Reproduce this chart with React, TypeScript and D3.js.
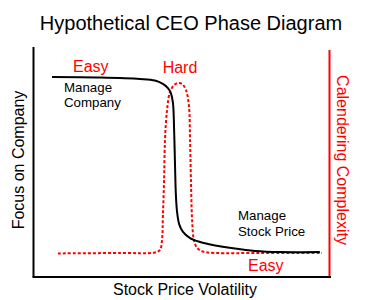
import React from "react";
import * as d3 from "d3";

const W = 375;
const H = 300;

// Black "Focus on Company" curve (x: volatility 0-100, y: focus 0-100)
const focusX = [6.1, 22.4, 35.9, 41.0, 43.7, 45.4, 46.4, 47.1, 47.5, 47.8, 48.1, 48.5, 49.2, 50.5, 52.9, 56.3, 61.4, 68.1, 74.9, 83.4, 96.9];
const focusY = [87.3, 87.1, 86.5, 85.8, 84.3, 82.5, 80.3, 76.0, 64.2, 48.9, 35.8, 28.4, 23.1, 19.7, 17.0, 15.3, 13.8, 12.4, 11.4, 10.9, 10.9];

// Red dashed "Calendering Complexity" curve
const complexX = [8.1, 29.2, 41.0, 42.7, 43.4, 43.7, 44.1, 44.4, 45.1, 46.1, 47.5, 48.8, 50.2, 51.5, 52.5, 52.9, 53.2, 53.6, 54.2, 55.3, 57.3, 61.4, 76.6, 97.6];
const complexY = [10.3, 10.5, 10.7, 11.8, 16.2, 27.1, 42.4, 59.8, 72.9, 80.8, 83.8, 84.7, 84.3, 81.7, 75.1, 59.8, 42.4, 24.9, 16.2, 12.7, 11.1, 10.5, 10.5, 10.5];

const title = "Hypothetical CEO Phase Diagram";
const xLabel = "Stock Price Volatility";
const yLabel = "Focus on Company";
const y2Label = "Calendering Complexity";

export default function App() {
  const x = d3.scaleLinear().domain([0, 100]).range([34, 329]);
  const y = d3.scaleLinear().domain([0, 100]).range([277, 48]);

  const line = d3
    .line<[number, number]>()
    .x((d) => x(d[0]))
    .y((d) => y(d[1]))
    .curve(d3.curveCatmullRom.alpha(0.5));

  const focusPts = focusX.map((v, i) => [v, focusY[i]] as [number, number]);
  const complexPts = complexX.map((v, i) => [v, complexY[i]] as [number, number]);

  const font = "'Liberation Sans', Arial, sans-serif";
  const red = "#ff0000";

  return (
    <svg
      width={W}
      height={H}
      style={{ position: "absolute", left: 0, top: 0, background: "#fff" }}
      fontFamily={font}
    >
      <rect width={W} height={H} fill="#fff" />
      <text x={191} y={30} textAnchor="middle" fontSize={20} fill="#000">
        {title}
      </text>

      {/* axes */}
      <line x1={33.5} y1={47} x2={33.5} y2={277} stroke="#000" strokeWidth={2} />
      <line x1={32.5} y1={277} x2={331} y2={277} stroke="#000" strokeWidth={2} />
      <line x1={329.5} y1={50} x2={329.5} y2={276} stroke={red} strokeWidth={2} />

      {/* curves */}
      <path d={line(complexPts) || ""} fill="none" stroke={red} strokeWidth={2} strokeDasharray="3,2" />
      <path d={line(focusPts) || ""} fill="none" stroke="#000" strokeWidth={2} />

      {/* annotations */}
      <text x={73} y={72} fontSize={16} fill={red}>Easy</text>
      <text x={180} y={73} fontSize={16} fill={red} textAnchor="middle">Hard</text>
      <text x={248} y={271} fontSize={16} fill={red}>Easy</text>

      <text x={64} y={92} fontSize={13.3} fill="#000">Manage</text>
      <text x={64} y={107} fontSize={13.3} fill="#000">Company</text>
      <text x={238} y={220} fontSize={13.3} fill="#000">Manage</text>
      <text x={238} y={236} fontSize={13.3} fill="#000">Stock Price</text>

      {/* axis labels */}
      <text x={185} y={295} fontSize={16} textAnchor="middle" fill="#000">
        {xLabel}
      </text>
      <text
        transform={`translate(24,160) rotate(-90)`}
        fontSize={16}
        textAnchor="middle"
        fill="#000"
      >
        {yLabel}
      </text>
      <text
        transform={`translate(337,160) rotate(90)`}
        fontSize={16}
        textAnchor="middle"
        fill={red}
      >
        {y2Label}
      </text>
    </svg>
  );
}
